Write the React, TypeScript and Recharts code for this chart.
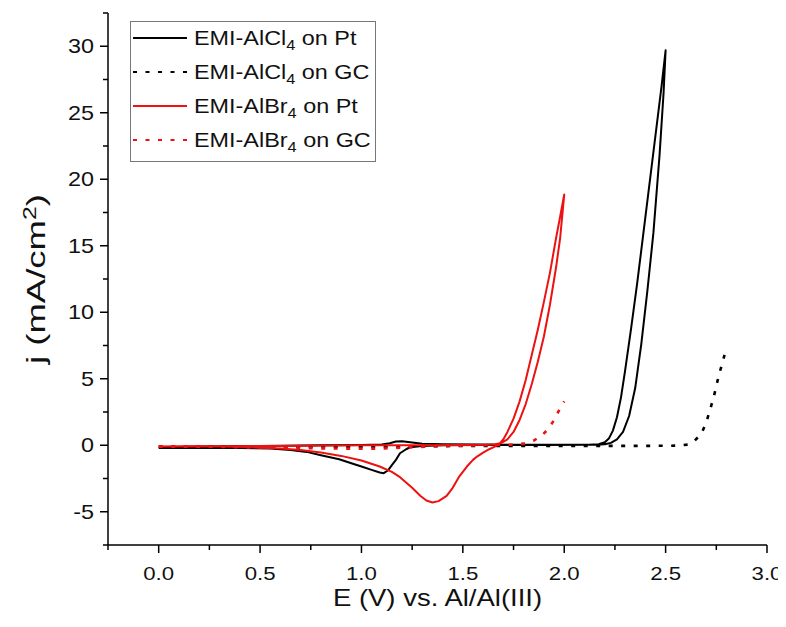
import React from "react";
import { LineChart, Line, XAxis, YAxis, Legend, Label } from "recharts";

// ---------- data ----------
const alcl4PtE = [0.0, 0.2, 0.5, 0.8, 1.0, 1.1, 1.14, 1.17, 1.2, 1.24, 1.3, 1.4, 1.6, 1.9, 2.1,
  2.16, 2.2, 2.23, 2.26, 2.29, 2.32, 2.35, 2.38, 2.41, 2.44, 2.47, 2.49, 2.5,
  2.48, 2.45, 2.42, 2.39, 2.36, 2.33, 2.3, 2.28, 2.26, 2.24, 2.22, 2.2, 2.17, 2.12,
  1.9, 1.6, 1.4, 1.3, 1.24, 1.22, 1.19, 1.17, 1.15, 1.13, 1.11, 1.09, 1.05, 1.0, 0.95, 0.89, 0.8, 0.73, 0.65, 0.55, 0.4, 0.2, 0.0];
const alcl4PtJ = [-0.2, -0.1, -0.05, 0.0, 0.02, 0.05, 0.15, 0.28, 0.3, 0.22, 0.12, 0.08, 0.05, 0.03, 0.03,
  0.04, 0.08, 0.18, 0.45, 1.0, 2.2, 4.3, 7.6, 11.6, 16.0, 21.8, 26.5, 29.7,
  27.0, 23.3, 19.6, 15.9, 12.2, 8.8, 5.6, 3.6, 2.1, 1.1, 0.5, 0.22, 0.07, 0.03,
  0.02, 0.02, 0.0, -0.05, -0.15, -0.3, -0.6, -1.1, -1.5, -1.9, -2.1, -2.05, -1.85, -1.6, -1.35, -1.05, -0.75, -0.5, -0.35, -0.25, -0.2, -0.2, -0.2];

const alcl4GcE = [0.0, 0.3, 0.6, 0.9, 1.2, 1.5, 1.8, 2.1, 2.4, 2.55, 2.61, 2.64, 2.66, 2.68, 2.7, 2.72, 2.74, 2.76, 2.78, 2.8];
const alcl4GcJ = [-0.1, -0.1, -0.1, -0.1, -0.1, -0.05, -0.05, -0.05, -0.05, -0.03, 0.05, 0.3, 0.6, 1.0, 1.7, 2.7, 3.8, 5.1, 6.2, 7.3];

const albr4PtE = [0.0, 0.3, 0.6, 1.0, 1.3, 1.5, 1.62, 1.66, 1.69, 1.72, 1.75, 1.78, 1.81, 1.84, 1.87, 1.9, 1.93, 1.96, 1.98, 2.0,
  1.98, 1.96, 1.93, 1.9, 1.87, 1.84, 1.81, 1.78, 1.75, 1.72, 1.7, 1.68,
  1.66, 1.63, 1.6, 1.57, 1.55, 1.52, 1.48, 1.45, 1.42, 1.38, 1.35, 1.32, 1.29, 1.25, 1.22, 1.19, 1.15, 1.09, 1.0, 0.9, 0.8, 0.7, 0.6, 0.45, 0.3, 0.15, 0.0];
const albr4PtJ = [-0.1, -0.07, -0.05, 0.0, 0.0, 0.02, 0.04, 0.08, 0.18, 0.45, 1.0, 1.9, 3.1, 4.6, 6.3, 8.2, 10.6, 13.4, 15.6, 18.85,
  17.2, 15.6, 13.0, 10.8, 8.7, 6.8, 4.9, 3.3, 2.0, 1.0, 0.45, 0.1,
  -0.08, -0.3, -0.55, -0.85, -1.1, -1.6, -2.4, -3.2, -3.8, -4.2, -4.3, -4.15, -3.8, -3.2, -2.8, -2.4, -2.0, -1.6, -1.15, -0.8, -0.55, -0.35, -0.25, -0.15, -0.1, -0.08, -0.1];

const albr4GcE = [0.0, 0.3, 0.6, 0.9, 1.1, 1.25, 1.4, 1.6, 1.75, 1.8, 1.85, 1.89, 1.92, 1.95, 1.97, 2.0];
const albr4GcJ = [-0.1, -0.12, -0.2, -0.25, -0.25, -0.15, -0.05, 0.0, 0.05, 0.12, 0.35, 0.75, 1.2, 1.9, 2.5, 3.3];

const seriesNames = ["EMI-AlCl", "EMI-AlCl", "EMI-AlBr", "EMI-AlBr"];
const seriesSuffix = [" on Pt", " on GC", " on Pt", " on GC"];
const seriesColors = ["#000000", "#000000", "#ee1111", "#ee1111"];
const seriesDotted = [false, true, false, true];

const xTicks = [-0.25, 0, 0.25, 0.5, 0.75, 1.0, 1.25, 1.5, 1.75, 2.0, 2.25, 2.5, 2.75, 3.0];
const yTicks = [-7.5, -5, -2.5, 0, 2.5, 5, 7.5, 10, 12.5, 15, 17.5, 20, 22.5, 25, 27.5, 30, 32.5];

const toPts = (E: number[], J: number[]) => E.map((x, i) => ({ x, y: J[i] }));
const seriesData = [
  toPts(alcl4PtE, alcl4PtJ),
  toPts(alcl4GcE, alcl4GcJ),
  toPts(albr4PtE, albr4PtJ),
  toPts(albr4GcE, albr4GcJ),
];

// ---------- styling ----------
const FONT = "Arial, 'Liberation Sans', Helvetica, sans-serif";
const SX = 1.17;
const DASH = "4 8.5";

const isMajorX = (v: number) => Math.abs(v * 2 - Math.round(v * 2)) < 1e-6;
const isMajorY = (v: number) => Math.abs(v / 5 - Math.round(v / 5)) < 1e-6;

const XTick = (props: any) => {
  const { x, y, payload } = props;
  const major = isMajorX(payload.value);
  return (
    <g>
      <line x1={x} x2={x} y1={y} y2={y + (major ? 8 : 5)} stroke="#000" strokeWidth={1.5} />
      {major && (
        <text transform={`translate(${x},${y + 35}) scale(${SX},1)`} textAnchor="middle" fontSize={19} fontFamily={FONT} fill="#111">
          {payload.value.toFixed(1)}
        </text>
      )}
    </g>
  );
};

const YTick = (props: any) => {
  const { x, y, payload } = props;
  const major = isMajorY(payload.value);
  return (
    <g>
      <line x1={x} x2={x - (major ? 8 : 5)} y1={y} y2={y} stroke="#000" strokeWidth={1.5} />
      {major && (
        <text transform={`translate(${x - 14},${y + 7}) scale(${SX},1)`} textAnchor="end" fontSize={20} fontFamily={FONT} fill="#111">
          {String(payload.value)}
        </text>
      )}
    </g>
  );
};

const LegendBox = () => (
  <svg width={247} height={142} style={{ display: "block", overflow: "visible" }}>
    <rect x={0.5} y={0.5} width={245} height={140} fill="#fff" stroke="#777" strokeWidth={1} />
    {seriesNames.map((n, i) => {
      const cy = 17 + i * 34;
      return (
        <g key={i}>
          <line x1={3} x2={57} y1={cy} y2={cy} stroke={seriesColors[i]} strokeWidth={2.2}
            strokeDasharray={seriesDotted[i] ? DASH : undefined} />
          <text transform={`translate(64,${cy + 7}) scale(${SX},1)`} fontSize={20} fontFamily={FONT} fill="#111">
            {n}
            <tspan fontSize={14} dy={5}>4</tspan>
            <tspan dy={-5}>{seriesSuffix[i]}</tspan>
          </text>
        </g>
      );
    })}
  </svg>
);

const YTitle = (props: any) => {
  const vb = props.viewBox || { x: 0, y: 5, width: 100, height: 532 };
  const cx = vb.x + 37;
  const cy = vb.y + vb.height / 2;
  return (
    <text transform={`translate(${cx},${cy}) scale(${SX},1) rotate(-90)`} textAnchor="middle" fontSize={22}
      fontFamily={FONT} fill="#111" textLength={170} lengthAdjust="spacingAndGlyphs">
      j (mA/cm<tspan fontSize={15} dy={-8}>2</tspan><tspan dy={8}>)</tspan>
    </text>
  );
};

const XTitle = (props: any) => {
  const vb = props.viewBox || { x: 100, y: 537, width: 659, height: 74 };
  const cx = vb.x + vb.width / 2;
  return (
    <text transform={`translate(${cx},${vb.y + 61}) scale(${SX},1)`} textAnchor="middle" fontSize={23.5} fontFamily={FONT} fill="#111">
      E (V) vs. Al/Al(III)
    </text>
  );
};

export default function App() {
  return (
    <div style={{ width: 778, height: 611, position: "relative" }}>
      <LineChart width={778} height={611} margin={{ top: 5, right: 19, bottom: 0, left: 0 }}>
        <XAxis
          type="number"
          dataKey="x"
          domain={[-0.25, 3.0]}
          ticks={xTicks}
          interval={0}
          height={74}
          tickSize={0}
          tickMargin={0}
          tickLine={false}
          axisLine={{ stroke: "#000", strokeWidth: 1.5 }}
          tick={<XTick />}
          allowDataOverflow
        >
          <Label content={<XTitle />} />
        </XAxis>
        <YAxis
          type="number"
          dataKey="y"
          domain={[-7.5, 32.5]}
          ticks={yTicks}
          interval={0}
          width={100}
          tickSize={0}
          tickMargin={0}
          tickLine={false}
          axisLine={{ stroke: "#000", strokeWidth: 1.5 }}
          tick={<YTick />}
          allowDataOverflow
        >
          <Label content={<YTitle />} />
        </YAxis>
        <Legend
          verticalAlign="middle"
          align="center"
          layout="vertical"
          content={() => <LegendBox />}
          wrapperStyle={{ position: "absolute", left: 122, top: 13, width: 247, height: 142 }}
        />
        {seriesData.map((d, i) => (
          <Line
            key={i}
            data={d}
            dataKey="y"
            name={seriesNames[i] + "4" + seriesSuffix[i]}
            type="linear"
            stroke={seriesColors[i]}
            strokeWidth={seriesDotted[i] ? 2.6 : 2}
            strokeDasharray={seriesDotted[i] ? DASH : undefined}
            strokeLinejoin="round"
            dot={false}
            activeDot={false}
            isAnimationActive={false}
          />
        ))}
      </LineChart>
    </div>
  );
}
